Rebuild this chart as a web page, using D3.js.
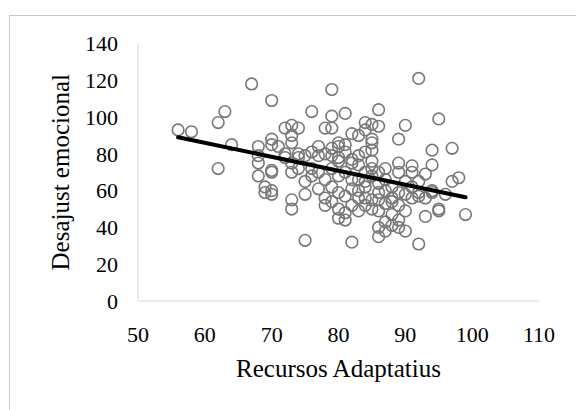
<!DOCTYPE html>
<html>
<head>
<meta charset="utf-8">
<script src="https://cdn.jsdelivr.net/npm/d3@7"></script>
<style>
  body { margin: 0; background: #fff; }
</style>
</head>
<body>
<div id="chart"></div>
<script>
// Recursos Adaptatius (x) vs Desajust emocional (y)
const recursos = [
    56, 58, 62, 63, 62, 64, 67, 70, 68, 68, 68, 68, 69, 69, 70, 70, 70, 70, 70, 70,
    71, 72, 72, 73, 73, 73, 73, 73, 73, 74, 74, 74, 75, 75, 75, 75, 76, 76, 77, 77,
    77, 78, 78, 78, 79, 79, 79, 79, 79, 79, 80, 80, 80, 80, 80, 81, 81, 81, 81, 82,
    82, 82, 82, 83, 83, 83, 83, 84, 84, 84, 84, 84, 85, 85, 85, 85, 85, 86, 86, 86,
    86, 86, 86, 87, 87, 87, 88, 88, 89, 89, 89, 89, 89, 90, 90, 90, 91, 91, 91, 92,
    92, 92, 93, 93, 93, 94, 94, 94, 95, 95, 95, 97, 97, 98, 99,
    78, 79, 80, 80, 81, 82, 82, 83, 83, 84, 84, 85, 85, 86, 86, 87, 87, 88, 88, 89,
    90, 90, 91, 92, 92, 76, 77, 74, 72, 73, 76, 79, 80, 81, 82, 84, 85, 86, 87, 88,
    78, 81, 83, 85, 89, 94, 96
];
const desajust = [
    93, 92, 97, 103, 72, 85, 118, 109, 84, 79, 75, 68, 62, 59, 58, 60, 71, 70, 85, 88,
    84, 80, 94, 95.5, 90, 86, 70, 55, 50, 94, 78, 72, 79, 65, 58, 33, 103, 81, 84, 79,
    61, 94, 66, 56, 115, 100.5, 94, 83, 79, 54, 84, 76, 59, 50, 45, 102, 81, 70, 44, 91,
    75, 61, 32, 79, 66, 56, 49, 97, 93, 81, 65, 56, 96, 86, 82, 72, 55, 104, 95, 59,
    49, 40, 35, 72, 66, 38, 56, 47, 88, 75, 70, 59, 44, 95.5, 49, 38, 73.5, 70, 56, 121,
    57, 31, 69, 56, 46, 82, 74, 59, 99, 50, 49, 83, 65, 67, 47,
    80, 72, 78, 86, 85, 77, 66, 60, 74, 70, 62, 68, 76, 70, 64, 60, 53, 62, 54, 52,
    58, 65, 62, 59, 65, 72, 70, 80, 78, 75, 68, 62, 68, 57, 52, 52, 50, 55, 43, 41,
    52, 48, 90, 88, 40, 60, 58
];
const points = recursos.map((x, i) => ({ x: x, y: desajust[i] }));

// linear trend line ends
const trendX = [56, 99];
const trendY = [89, 56.4];

const xTicks = [50, 60, 70, 80, 90, 100, 110];
const yTicks = [0, 20, 40, 60, 80, 100, 120, 140];

const width = 576, height = 410;
const serif = '"Liberation Serif", "Times New Roman", Times, "DejaVu Serif", serif';

const svg = d3.select('#chart').append('svg')
    .attr('width', width)
    .attr('height', height)
    .style('font-family', serif);

// outer chart frame (runs off the right and bottom edges)
svg.append('rect')
    .attr('x', 9.5)
    .attr('y', 15.5)
    .attr('width', 600)
    .attr('height', 420)
    .attr('fill', 'none')
    .attr('stroke', '#c8c8c8')
    .attr('stroke-width', 1);

const x = d3.scaleLinear().domain([50, 110]).range([138, 539]);
const y = d3.scaleLinear().domain([0, 140]).range([301, 43.5]);

// axes lines only, labels added by hand
const g = svg.append('g');
g.append('line')
    .attr('x1', x(50)).attr('x2', x(50))
    .attr('y1', y(0)).attr('y2', y(140))
    .attr('stroke', '#d9d9d9');
g.append('line')
    .attr('x1', x(50)).attr('x2', x(110))
    .attr('y1', y(0)).attr('y2', y(0))
    .attr('stroke', '#d9d9d9');

g.selectAll('.ylab')
    .data(yTicks)
    .enter().append('text')
    .attr('class', 'ylab')
    .attr('x', 118)
    .attr('y', d => y(d))
    .attr('dy', '0.35em')
    .attr('text-anchor', 'end')
    .attr('font-family', serif)
    .attr('font-size', 22)
    .text(d => d);

g.selectAll('.xlab')
    .data(xTicks)
    .enter().append('text')
    .attr('class', 'xlab')
    .attr('x', d => x(d))
    .attr('y', 334)
    .attr('dy', '0.35em')
    .attr('text-anchor', 'middle')
    .attr('font-family', serif)
    .attr('font-size', 22)
    .text(d => d);

// points
svg.append('g').selectAll('circle')
    .data(points)
    .enter().append('circle')
    .attr('cx', d => x(d.x))
    .attr('cy', d => y(d.y))
    .attr('r', 5.8)
    .attr('fill', 'none')
    .attr('stroke', '#777')
    .attr('stroke-width', 1.6);

// trend line
svg.append('path')
    .datum(trendX.map((v, i) => [v, trendY[i]]))
    .attr('d', d3.line().x(d => x(d[0])).y(d => y(d[1])))
    .attr('fill', 'none')
    .attr('stroke', '#000')
    .attr('stroke-width', 4)
    .attr('stroke-linecap', 'round');

// axis titles
svg.append('text')
    .attr('x', (x(50) + x(110)) / 2)
    .attr('y', 368)
    .attr('dy', '0.35em')
    .attr('text-anchor', 'middle')
    .attr('font-family', serif)
    .attr('font-size', 25)
    .text('Recursos Adaptatius');

svg.append('text')
    .attr('transform', 'translate(60,' + ((y(0) + y(140)) / 2) + ') rotate(-90)')
    .attr('dy', '0.35em')
    .attr('text-anchor', 'middle')
    .attr('font-family', serif)
    .attr('font-size', 25)
    .text('Desajust emocional');
</script>
</body>
</html>
